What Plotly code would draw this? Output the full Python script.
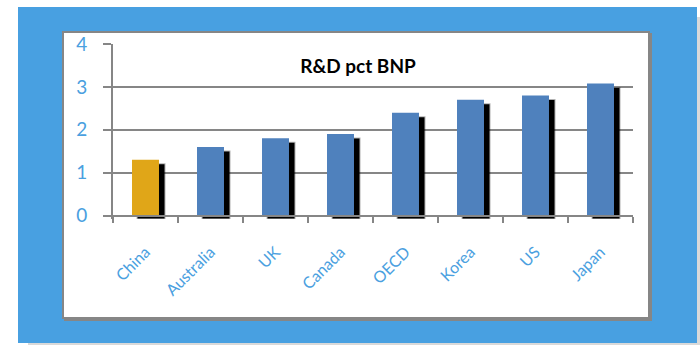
import plotly.graph_objects as go

# Gross domestic R&D spending, percent of GDP
countries = ["China", "Australia", "UK", "Canada", "OECD", "Korea", "US", "Japan"]
rd_pct = [1.3, 1.6, 1.8, 1.9, 2.4, 2.7, 2.8, 3.08]
highlight = "China"

BLUE_BAR = "#4f81bd"
GOLD_BAR = "#e0a618"
BG_BLUE = "#48a0e1"
LABEL_BLUE = "#4aa0e0"
GRAY = "#868686"
FONT = "Lato, 'Open Sans', sans-serif"

W, H = 700, 345
M_L, M_R, M_T, M_B = 113, 67, 44, 126
PW, PH = W - M_L - M_R, H - M_T - M_B
Y_MIN, Y_MAX = -0.08, 4

BAR_W = 0.415          # bar width in category units
SHADOW_DX = 0.085      # drop-shadow shift to the right (category units)
SHADOW_DROP = 0.07     # drop-shadow shift downward (value units)


def px_x(px):
    return (px - M_L) / PW


def px_y(py):
    return (H - M_B - py) / PH


bar_colors = [GOLD_BAR if c == highlight else BLUE_BAR for c in countries]

fig = go.Figure()

# drop shadow behind each bar
fig.add_trace(go.Bar(
    x=countries,
    y=[v - 0.035 for v in rd_pct],
    base=[-SHADOW_DROP] * len(countries),
    width=BAR_W,
    offset=-BAR_W / 2 + SHADOW_DX,
    marker=dict(color="black", line=dict(color="rgba(0,0,0,0.3)", width=2)),
    hoverinfo="skip",
    showlegend=False,
))

# the bars themselves
fig.add_trace(go.Bar(
    x=countries,
    y=rd_pct,
    width=BAR_W,
    offset=-BAR_W / 2,
    marker=dict(color=bar_colors, line=dict(width=0)),
    showlegend=False,
))

shapes = [
    # outer frame shadow
    dict(type="rect", xref="paper", yref="paper", layer="below",
         x0=px_x(28), x1=px_x(708), y0=px_y(353), y1=px_y(17),
         fillcolor="#d9d9d9", line=dict(width=0)),
    # blue frame
    dict(type="rect", xref="paper", yref="paper", layer="below",
         x0=px_x(18), x1=px_x(697), y0=px_y(343), y1=px_y(7),
         fillcolor=BG_BLUE, line=dict(width=0)),
    # inner panel shadow
    dict(type="rect", xref="paper", yref="paper", layer="below",
         x0=px_x(64), x1=px_x(652), y0=px_y(321), y1=px_y(33),
         fillcolor=GRAY, line=dict(width=0)),
    # inner white panel
    dict(type="rect", xref="paper", yref="paper", layer="below",
         x0=px_x(63), x1=px_x(649), y0=px_y(318), y1=px_y(32),
         fillcolor="white", line=dict(color=GRAY, width=2)),
]

fig.update_layout(
    width=W, height=H,
    margin=dict(l=M_L, r=M_R, t=M_T, b=M_B, pad=0),
    paper_bgcolor="white",
    plot_bgcolor="rgba(0,0,0,0)",
    barmode="overlay",
    shapes=shapes,
    font=dict(family=FONT),
    title=dict(
        text="<b>R&D pct BNP</b>",
        font=dict(family=FONT, size=19, color="black"),
        xref="container", yref="container",
        x=358 / W, xanchor="center",
        y=1 - 66 / H, yanchor="middle",
    ),
    xaxis=dict(
        type="category",
        range=[-0.5, len(countries) - 0.5],
        anchor="free",
        position=(0 - Y_MIN) / (Y_MAX - Y_MIN),
        showline=True, linecolor=GRAY, linewidth=2,
        ticks="outside", ticklen=6, tickwidth=2, tickcolor=GRAY,
        tickson="boundaries",
        showgrid=False,
        tickangle=-45,
        ticklabelstandoff=20,
        tickfont=dict(family=FONT, size=16, color=LABEL_BLUE),
        fixedrange=True,
    ),
    yaxis=dict(
        range=[Y_MIN, Y_MAX],
        tickvals=[0, 1, 2, 3, 4],
        showline=True, linecolor=GRAY, linewidth=2,
        showgrid=True, gridcolor=GRAY, gridwidth=2,
        zeroline=False,
        ticks="outside", ticklen=8, tickwidth=2, tickcolor=GRAY,
        ticklabelstandoff=12,
        tickfont=dict(family=FONT, size=19, color=LABEL_BLUE),
        fixedrange=True,
    ),
)

fig.write_html("out.html", config={"displayModeBar": False})
